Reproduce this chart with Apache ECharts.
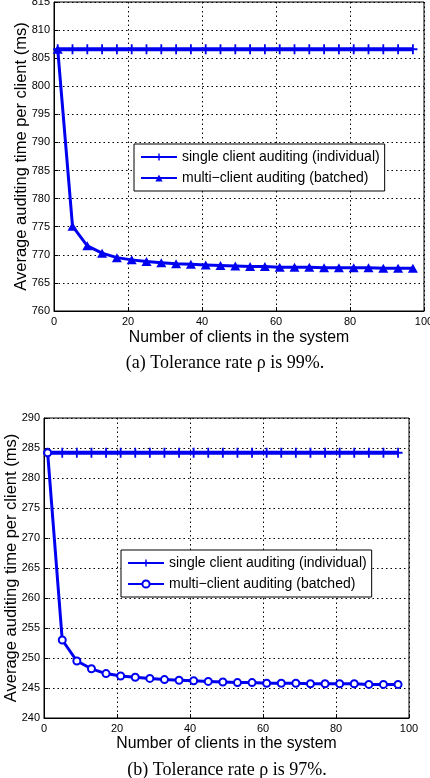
<!DOCTYPE html>
<html>
<head>
<meta charset="utf-8">
<script src="https://cdn.jsdelivr.net/npm/echarts@6/dist/echarts.min.js"></script>
<style>
html,body{margin:0;padding:0;background:#fff;}
#c{width:430px;height:778px;}
</style>
</head>
<body>
<div id="c"></div>
<script>
// ---- data ----
const clients = [1,5,9,13,17,21,25,29,33,37,41,45,49,53,57,61,65,69,73,77,81,85,89,93,97];

// (a) tolerance 99%
const singleA = [806.6,806.6,806.6,806.6,806.6,806.6,806.6,806.6,806.6,806.6,806.6,806.6,806.6,806.6,806.6,806.6,806.6,806.6,806.6,806.6,806.6,806.6,806.6,806.6,806.6];
const multiA  = [806.6,775.1,771.6,770.3,769.5,769.1,768.8,768.6,768.4,768.3,768.2,768.1,768.0,767.9,767.9,767.8,767.8,767.8,767.7,767.7,767.7,767.7,767.6,767.6,767.6];

// (b) tolerance 97%
const singleB = [284.2,284.2,284.2,284.2,284.2,284.2,284.2,284.2,284.2,284.2,284.2,284.2,284.2,284.2,284.2,284.2,284.2,284.2,284.2,284.2,284.2,284.2,284.2,284.2,284.2];
const multiB  = [284.2,253.0,249.5,248.2,247.4,247.0,246.8,246.6,246.4,246.3,246.2,246.1,246.0,245.9,245.9,245.8,245.8,245.8,245.7,245.7,245.7,245.7,245.6,245.6,245.6];

const xTicks = [0,20,40,60,80,100];
const yTicksA = [760,765,770,775,780,785,790,795,800,805,810,815];
const yTicksB = [240,245,250,255,260,265,270,275,280,285,290];

const labelSingle = 'single client auditing (individual)';
const labelMulti  = 'multi\u2212client auditing (batched)';
const xTitle = 'Number of clients in the system';
const yTitle = 'Average auditing time per client (ms)';
const captionA = '(a) Tolerance rate \u03c1 is 99%.';
const captionB = '(b) Tolerance rate \u03c1 is 97%.';

// ---- chart ----
const BLUE = '#0000f0';
const FONT = 'Liberation Sans, Arial, sans-serif';
const labelMap = {sA: labelSingle, mA: labelMulti, sB: labelSingle, mB: labelMulti};
const plusPath = 'path://M4,0h2v10h-2z M0,4h10v2h-10z';

function pairs(xs, ys){ return xs.map((x,i)=>[x, ys[i]]); }

function xAxisDef(gi, gap){
  return {
    type:'value', gridIndex:gi, min:xTicks[0], max:xTicks[xTicks.length-1], interval:20,
    name:xTitle, nameLocation:'middle', nameGap:gap, nameMoveOverlap:false,
    nameTextStyle:{fontFamily:FONT, fontSize:15.8, color:'#000'},
    axisLine:{show:true, onZero:false, lineStyle:{color:'#000', width:1}},
    axisTick:{show:true, inside:true, length:4, lineStyle:{color:'#000'}},
    axisLabel:{fontFamily:FONT, fontSize:11, color:'#000', margin:5},
    splitLine:{show:true, lineStyle:{color:'#000', width:1, type:[1.5,3]}}
  };
}
function yAxisDef(gi, ticks){
  return {
    type:'value', gridIndex:gi, min:ticks[0], max:ticks[ticks.length-1], interval:5,
    name:yTitle, nameLocation:'middle', nameGap:24, nameMoveOverlap:false,
    nameTextStyle:{fontFamily:FONT, fontSize:16.5, color:'#000'},
    axisLine:{show:true, onZero:false, lineStyle:{color:'#000', width:1}},
    axisTick:{show:true, inside:true, length:4, lineStyle:{color:'#000'}},
    axisLabel:{fontFamily:FONT, fontSize:11, color:'#000', margin:4},
    splitLine:{show:true, lineStyle:{color:'#000', width:1, type:[1.5,3]}}
  };
}
function legendDef(names, left, top){
  return {
    data:names, orient:'vertical', left:left, top:top,
    padding:[5,5,5,6], itemGap:5, itemWidth:36, itemHeight:9,
    backgroundColor:'#fff', borderColor:'#000', borderWidth:1, borderRadius:0,
    selectedMode:false,
    formatter:(n)=>labelMap[n],
    textStyle:{fontFamily:FONT, fontSize:14, color:'#000', lineHeight:16}
  };
}

const chart = echarts.init(document.getElementById('c'), null, {renderer:'canvas'});
chart.setOption({
  animation:false,
  backgroundColor:'#fff',
  grid:[
    {left:54, top:2, width:370, height:309, outerBoundsMode:'none', containLabel:false, show:true, borderColor:'#000', borderWidth:1, backgroundColor:'transparent'},
    {left:44, top:418, width:365, height:300, outerBoundsMode:'none', containLabel:false, show:true, borderColor:'#000', borderWidth:1, backgroundColor:'transparent'}
  ],
  xAxis:[xAxisDef(0, 19), xAxisDef(1, 18)],
  yAxis:[yAxisDef(0, yTicksA), yAxisDef(1, yTicksB)],
  legend:[legendDef(['sA','mA'], 134, 144), legendDef(['sB','mB'], 121, 550)],
  title:[
    {text:captionA, left:220, top:349, textAlign:'center', textStyle:{fontFamily:'Liberation Serif, Times New Roman, serif', fontSize:18, fontWeight:'normal', color:'#000'}},
    {text:captionB, left:222, top:756, textAlign:'center', textStyle:{fontFamily:'Liberation Serif, Times New Roman, serif', fontSize:18, fontWeight:'normal', color:'#000'}}
  ],
  series:[
    {name:'sA', type:'line', xAxisIndex:0, yAxisIndex:0, data:pairs(clients, singleA),
     symbol:plusPath, symbolSize:[9,10], itemStyle:{color:BLUE}, lineStyle:{color:BLUE, width:4}, z:3},
    {name:'mA', type:'line', xAxisIndex:0, yAxisIndex:0, data:pairs(clients, multiA),
     symbol:'triangle', symbolSize:[10,9], itemStyle:{color:BLUE}, lineStyle:{color:BLUE, width:3}, z:4},
    {name:'sB', type:'line', xAxisIndex:1, yAxisIndex:1, data:pairs(clients, singleB),
     symbol:plusPath, symbolSize:[9,10], itemStyle:{color:BLUE}, lineStyle:{color:BLUE, width:4}, z:3},
    {name:'mB', type:'line', xAxisIndex:1, yAxisIndex:1, data:pairs(clients, multiB),
     symbol:'emptyCircle', symbolSize:7, itemStyle:{color:BLUE, borderWidth:2}, lineStyle:{color:BLUE, width:3}, z:4}
  ]
});
</script>
</body>
</html>
